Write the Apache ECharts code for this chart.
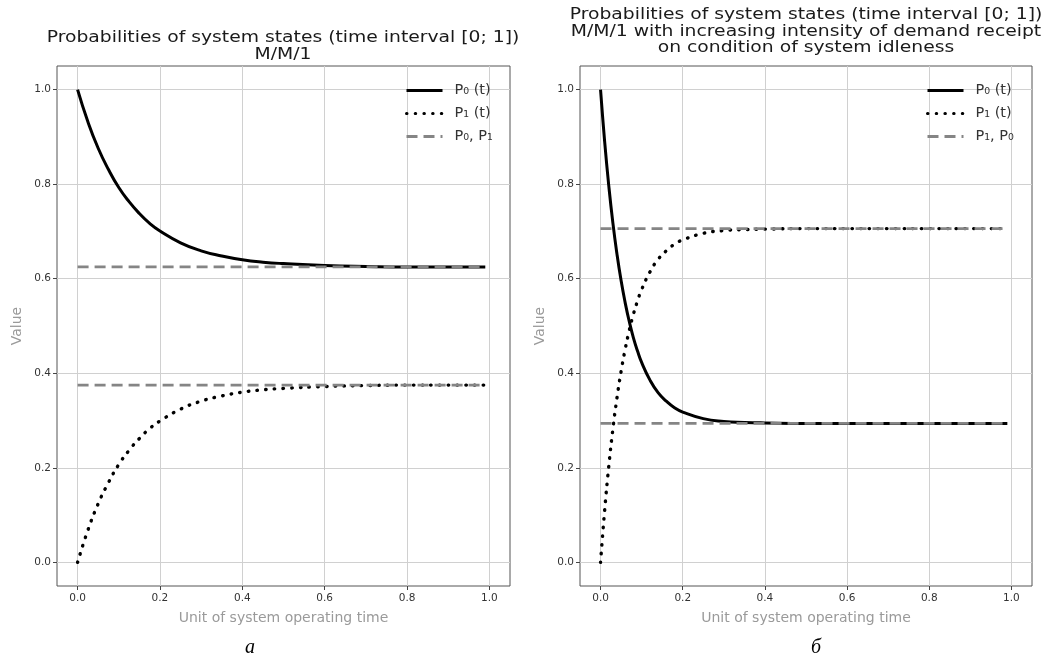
<!DOCTYPE html>
<html>
<head>
<meta charset="utf-8">
<script src="https://cdn.jsdelivr.net/npm/echarts@6/dist/echarts.min.js"></script>
<style>
html,body{margin:0;padding:0;background:#fff;}
#chart{width:1050px;height:664px;}
</style>
</head>
<body>
<div id="chart"></div>
<script>
// ---- data ----
var tickValues = [0, 0.2, 0.4, 0.6, 0.8, 1.0];

// (a) M/M/1
var tLeft  = [0, 0.025, 0.05, 0.075, 0.1, 0.125, 0.15, 0.175, 0.2, 0.25, 0.3, 0.35, 0.4, 0.45, 0.5, 0.6, 0.7, 0.8, 0.9, 0.99];
var p0Left = [1.000, 0.932, 0.876, 0.831, 0.793, 0.763, 0.738, 0.717, 0.701, 0.676, 0.659, 0.648, 0.640, 0.635, 0.632, 0.628, 0.626, 0.625, 0.625, 0.625];
var p1Left = [0.000, 0.068, 0.124, 0.169, 0.207, 0.237, 0.262, 0.283, 0.299, 0.324, 0.341, 0.352, 0.360, 0.365, 0.368, 0.372, 0.374, 0.375, 0.375, 0.375];
var stationaryLeft = [0.625, 0.375];

// (б) M/M/1 with increasing intensity
var tRight  = [0, 0.01, 0.02, 0.03, 0.04, 0.05, 0.06, 0.07, 0.08, 0.09, 0.1, 0.12, 0.14, 0.16, 0.18, 0.2, 0.25, 0.3, 0.35, 0.4, 0.5, 0.6, 0.7, 0.8, 0.9, 0.99];
var p0Right = [1.000, 0.890, 0.797, 0.718, 0.652, 0.596, 0.549, 0.509, 0.475, 0.447, 0.423, 0.386, 0.359, 0.341, 0.327, 0.318, 0.304, 0.298, 0.296, 0.295, 0.294, 0.294, 0.294, 0.294, 0.294, 0.294];
var p1Right = [0.000, 0.110, 0.203, 0.282, 0.348, 0.404, 0.451, 0.491, 0.525, 0.553, 0.577, 0.614, 0.641, 0.659, 0.673, 0.682, 0.696, 0.702, 0.704, 0.705, 0.706, 0.706, 0.706, 0.706, 0.706, 0.706];
var stationaryRight = [0.706, 0.294];
var tSpan = [0, 0.99];

var titleLeft  = 'Probabilities of system states (time interval [0; 1])\nM/M/1';
var titleRight = 'Probabilities of system states (time interval [0; 1])\nM/M/1 with increasing intensity of demand receipt\non condition of system idleness';
var namesLeft  = ['P₀ (t)', 'P₁ (t)', 'P₀, P₁'];
var namesRight = ['P₀ (t)', 'P₁ (t)', 'P₁, P₀'];
var xName = 'Unit of system operating time';
var yName = 'Value';

// ---- build ----
function zip(xs, ys){ return xs.map(function(x,i){ return [x, ys[i]]; }); }
var FONT = 'DejaVu Sans';

function makeX(gi){
  return {
    type:'value', gridIndex:gi, min:-0.05, max:1.05,
    name:xName, nameLocation:'middle', nameGap:25,
    nameTextStyle:{color:'#9a9a9a', fontSize:14, fontFamily:FONT},
    axisLine:{show:false, onZero:false},
    axisTick:{show:true, length:4, inside:false, customValues:tickValues, lineStyle:{color:'#444'}},
    axisLabel:{customValues:tickValues, color:'#333', fontSize:10.5, fontFamily:FONT, margin:7,
      formatter:function(v){ return v.toFixed(1); }},
    splitLine:{show:true, lineStyle:{color:'#d0d0d0', width:1}}
  };
}
function makeY(gi){
  return {
    type:'value', gridIndex:gi, min:-0.05, max:1.05,
    name:yName, nameLocation:'middle', nameGap:33,
    nameTextStyle:{color:'#9a9a9a', fontSize:14, fontFamily:FONT},
    axisLine:{show:false, onZero:false},
    axisTick:{show:true, length:4, customValues:tickValues, lineStyle:{color:'#444'}},
    axisLabel:{customValues:tickValues, color:'#333', fontSize:10.5, fontFamily:FONT, margin:6,
      formatter:function(v){ return v.toFixed(1); }},
    splitLine:{show:true, lineStyle:{color:'#d0d0d0', width:1}}
  };
}
function solid(name, gi, xs, ys){
  return {type:'line', name:name, xAxisIndex:gi, yAxisIndex:gi, data:zip(xs, ys),
    symbol:'none', smooth:0.5, z:3,
    lineStyle:{color:'#000', width:3}, itemStyle:{color:'#000'}};
}
function dotted(name, gi, xs, ys){
  return {type:'line', name:name, xAxisIndex:gi, yAxisIndex:gi, data:zip(xs, ys),
    symbol:'none', smooth:0.5, z:3,
    lineStyle:{color:'#000', width:3.4, type:[0.5, 8.2], cap:'round'}, itemStyle:{color:'#000'}};
}
function dashed(name, gi, v){
  return {type:'line', name:name, xAxisIndex:gi, yAxisIndex:gi, data:zip(tSpan, [v, v]),
    symbol:'none', z:4,
    lineStyle:{color:'#858585', width:2.6, type:[11, 6]}, itemStyle:{color:'#858585'}};
}

var series = [
  solid(namesLeft[0], 0, tLeft, p0Left),
  dotted(namesLeft[1], 0, tLeft, p1Left),
  dashed(namesLeft[2], 0, stationaryLeft[0]),
  dashed(namesLeft[2], 0, stationaryLeft[1]),
  solid(namesRight[0], 1, tRight, p0Right),
  dotted(namesRight[1], 1, tRight, p1Right),
  dashed(namesRight[2], 1, stationaryRight[0]),
  dashed(namesRight[2], 1, stationaryRight[1])
];

function legend(names, left){
  return {orient:'vertical', left:left, top:78, itemWidth:36, itemHeight:14, itemGap:8,
    data:names, selectedMode:false,
    itemStyle:{color:'transparent', borderColor:'transparent', borderWidth:0},
    lineStyle:{width:3},
    textStyle:{color:'#333', fontSize:14.5, fontFamily:FONT, padding:[0,0,0,7]}};
}

var option = {
  backgroundColor:'#fff',
  animation:false,
  title:[
    {text:'a', left:245, top:633, textAlign:'center',
      textStyle:{fontSize:20, fontWeight:'normal', fontStyle:'italic', color:'#000', fontFamily:'Liberation Serif'}},
    {text:'б', left:811, top:633, textAlign:'center',
      textStyle:{fontSize:20, fontWeight:'normal', fontStyle:'italic', color:'#000', fontFamily:'Liberation Serif'}}
  ],
  graphic:[
    {type:'group', x:283, y:30, children:[
      {type:'text', scaleX:1.25, silent:true,
       style:{text:titleLeft, font:'15px "DejaVu Sans"', fill:'#1a1a1a', align:'center', verticalAlign:'top', lineHeight:16.5}}]},
    {type:'group', x:806, y:7, children:[
      {type:'text', scaleX:1.25, silent:true,
       style:{text:titleRight, font:'15px "DejaVu Sans"', fill:'#1a1a1a', align:'center', verticalAlign:'top', lineHeight:16.5}}]}
  ],
  legend:[legend(namesLeft, 400), legend(namesRight, 921)],
  grid:[
    {left:57, top:66, width:453, height:520, show:true, borderColor:'#555', borderWidth:1, backgroundColor:'transparent'},
    {left:580, top:66, width:452, height:520, show:true, borderColor:'#555', borderWidth:1, backgroundColor:'transparent'}
  ],
  xAxis:[makeX(0), makeX(1)],
  yAxis:[makeY(0), makeY(1)],
  series:series
};

var chart = echarts.init(document.getElementById('chart'), null, {renderer:'canvas'});
chart.setOption(option);
</script>
</body>
</html>
